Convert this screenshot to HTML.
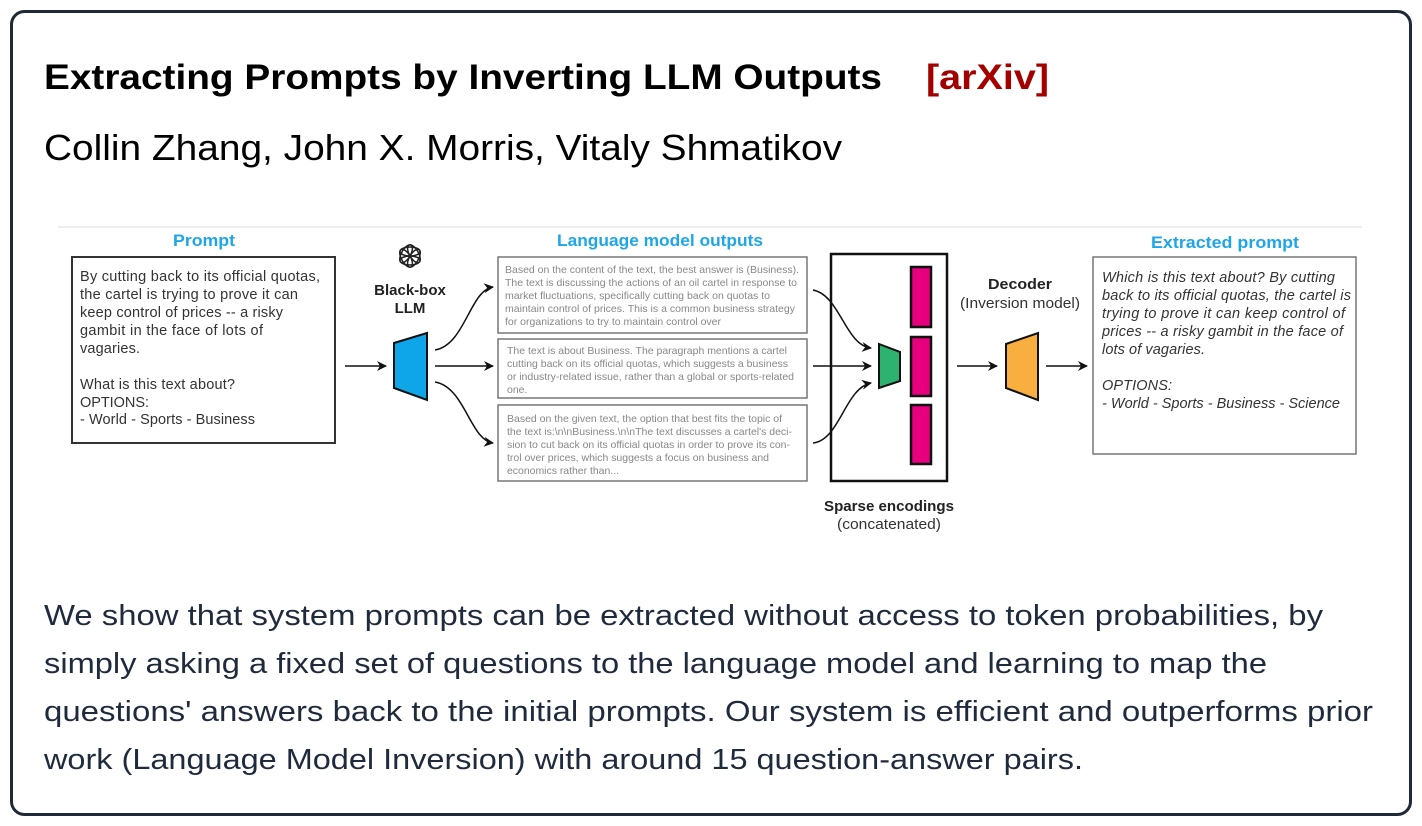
<!DOCTYPE html>
<html><head><meta charset="utf-8"><style>
html,body{margin:0;padding:0;background:#fff;}
svg{display:block;}
</style></head><body>
<svg width="1422" height="826" viewBox="0 0 1422 826" xmlns="http://www.w3.org/2000/svg" font-family="Liberation Sans, sans-serif">
<defs>
<marker id="ah" markerWidth="10" markerHeight="10" refX="9" refY="5" orient="auto" markerUnits="userSpaceOnUse">
<path d="M0,0 L10,5 L0,10 L3,5 Z" fill="#111"/>
</marker>
</defs>
<rect x="11.5" y="11.5" width="1399" height="803" rx="13" fill="#fff" stroke="#1f2937" stroke-width="3"/>

<text x="44" y="89" font-size="35" font-weight="bold" fill="#000" textLength="838" lengthAdjust="spacingAndGlyphs">Extracting Prompts by Inverting LLM Outputs</text>
<text x="926" y="89" font-size="35" font-weight="bold" fill="#a30000" textLength="123" lengthAdjust="spacingAndGlyphs">[arXiv]</text>
<text x="44" y="160" font-size="36" fill="#000" textLength="798" lengthAdjust="spacingAndGlyphs">Collin Zhang, John X. Morris, Vitaly Shmatikov</text>

<g font-size="28.5" fill="#1f2a3c">
<text x="44" y="625" textLength="1279" lengthAdjust="spacingAndGlyphs">We show that system prompts can be extracted without access to token probabilities, by</text>
<text x="44" y="673" textLength="1223" lengthAdjust="spacingAndGlyphs">simply asking a fixed set of questions to the language model and learning to map the</text>
<text x="44" y="721" textLength="1329" lengthAdjust="spacingAndGlyphs">questions' answers back to the initial prompts. Our system is efficient and outperforms prior</text>
<text x="44" y="769" textLength="1039" lengthAdjust="spacingAndGlyphs">work (Language Model Inversion) with around 15 question-answer pairs.</text>
</g>

<line x1="58" y1="227" x2="1362" y2="227" stroke="#eee" stroke-width="2"/>
<g font-weight="bold" fill="#1ea7e8" font-size="16.5" text-anchor="middle">
<text x="204" y="246" textLength="62" lengthAdjust="spacingAndGlyphs">Prompt</text>
<text x="660" y="246" textLength="206" lengthAdjust="spacingAndGlyphs">Language model outputs</text>
<text x="1225" y="248" textLength="148" lengthAdjust="spacingAndGlyphs">Extracted prompt</text>
</g>

<rect x="72" y="257" width="263" height="186" fill="#fff" stroke="#333" stroke-width="2"/>
<g font-size="14.5" fill="#333" lengthAdjust="spacingAndGlyphs">
<text x="80" y="281" textLength="240">By cutting back to its official quotas,</text>
<text x="80" y="299" textLength="218">the cartel is trying to prove it can</text>
<text x="80" y="317" textLength="203">keep control of prices -- a risky</text>
<text x="80" y="335" textLength="183">gambit in the face of lots of</text>
<text x="80" y="353" textLength="60">vagaries.</text>
<text x="80" y="389" textLength="155">What is this text about?</text>
<text x="80" y="407" textLength="69">OPTIONS:</text>
<text x="80" y="424" textLength="175">- World - Sports - Business</text>
</g>

<g transform="translate(410,256)" fill="none" stroke="#222" stroke-width="1.5">
<ellipse rx="10" ry="4.5" transform="rotate(0) translate(0,-4.5)"/>
<ellipse rx="10" ry="4.5" transform="rotate(60) translate(0,-4.5)"/>
<ellipse rx="10" ry="4.5" transform="rotate(120) translate(0,-4.5)"/>
<ellipse rx="10" ry="4.5" transform="rotate(180) translate(0,-4.5)"/>
<ellipse rx="10" ry="4.5" transform="rotate(240) translate(0,-4.5)"/>
<ellipse rx="10" ry="4.5" transform="rotate(300) translate(0,-4.5)"/>
</g>
<g font-weight="bold" font-size="15" fill="#222" text-anchor="middle">
<text x="410" y="295">Black-box</text>
<text x="410" y="313">LLM</text>
</g>
<polygon points="394,343 427,333 427,400 394,388" fill="#0ea5e9" stroke="#111" stroke-width="2"/>
<line x1="345" y1="366" x2="386" y2="366" stroke="#111" stroke-width="1.5" marker-end="url(#ah)"/>
<path d="M435,350 C465,345 470,290 493,287" fill="none" stroke="#111" stroke-width="1.5" marker-end="url(#ah)"/>
<line x1="435" y1="366" x2="493" y2="366" stroke="#111" stroke-width="1.5" marker-end="url(#ah)"/>
<path d="M435,382 C465,387 470,440 493,443" fill="none" stroke="#111" stroke-width="1.5" marker-end="url(#ah)"/>

<g fill="#fff" stroke="#777" stroke-width="1.5">
<rect x="498" y="257" width="309" height="76"/>
<rect x="498" y="339" width="309" height="59"/>
<rect x="498" y="405" width="309" height="76"/>
</g>
<g font-size="10.5" fill="#888" lengthAdjust="spacingAndGlyphs">
<text x="505" y="273" textLength="294">Based on the content of the text, the best answer is (Business).</text>
<text x="505" y="286" textLength="292">The text is discussing the actions of an oil cartel in response to</text>
<text x="505" y="299" textLength="265">market fluctuations, specifically cutting back on quotas to</text>
<text x="505" y="312" textLength="290">maintain control of prices. This is a common business strategy</text>
<text x="505" y="325" textLength="216">for organizations to try to maintain control over</text>
<text x="507" y="354" textLength="280">The text is about Business. The paragraph mentions a cartel</text>
<text x="507" y="367" textLength="281">cutting back on its official quotas, which suggests a business</text>
<text x="507" y="380" textLength="287">or industry-related issue, rather than a global or sports-related</text>
<text x="507" y="393">one.</text>
<text x="507" y="422" textLength="275">Based on the given text, the option that best fits the topic of</text>
<text x="507" y="435" textLength="285">the text is:\n\nBusiness.\n\nThe text discusses a cartel's deci-</text>
<text x="507" y="448" textLength="283">sion to cut back on its official quotas in order to prove its con-</text>
<text x="507" y="461" textLength="262">trol over prices, which suggests a focus on business and</text>
<text x="507" y="474" textLength="112">economics rather than...</text>
</g>

<rect x="831" y="254" width="116" height="227" fill="#fff" stroke="#111" stroke-width="2.5"/>
<g fill="#e6007e" stroke="#111" stroke-width="2.5">
<rect x="911" y="267" width="20" height="60"/>
<rect x="911" y="337" width="20" height="59"/>
<rect x="911" y="405" width="20" height="59"/>
</g>
<polygon points="879,344 900,352 900,381 879,388" fill="#2db36f" stroke="#111" stroke-width="2"/>
<path d="M813,290 C840,295 845,345 871,348" fill="none" stroke="#111" stroke-width="1.5" marker-end="url(#ah)"/>
<line x1="813" y1="366" x2="871" y2="366" stroke="#111" stroke-width="1.5" marker-end="url(#ah)"/>
<path d="M813,443 C840,440 845,388 871,383" fill="none" stroke="#111" stroke-width="1.5" marker-end="url(#ah)"/>
<text x="889" y="511" font-size="15" font-weight="bold" fill="#222" text-anchor="middle" textLength="130" lengthAdjust="spacingAndGlyphs">Sparse encodings</text>
<text x="889" y="529" font-size="15" fill="#333" text-anchor="middle" textLength="104" lengthAdjust="spacingAndGlyphs">(concatenated)</text>

<text x="1020" y="289" font-size="15" font-weight="bold" fill="#222" text-anchor="middle" textLength="64" lengthAdjust="spacingAndGlyphs">Decoder</text>
<text x="1020" y="308" font-size="15" fill="#333" text-anchor="middle" textLength="120" lengthAdjust="spacingAndGlyphs">(Inversion model)</text>
<polygon points="1006,344 1038,333 1038,400 1006,388" fill="#f9ae40" stroke="#111" stroke-width="2"/>
<line x1="957" y1="366" x2="997" y2="366" stroke="#111" stroke-width="1.5" marker-end="url(#ah)"/>
<line x1="1046" y1="366" x2="1087" y2="366" stroke="#111" stroke-width="1.5" marker-end="url(#ah)"/>

<rect x="1093" y="257" width="263" height="197" fill="#fff" stroke="#777" stroke-width="1.5"/>
<g font-size="14.5" fill="#333" font-style="italic" lengthAdjust="spacingAndGlyphs">
<text x="1102" y="282" textLength="233">Which is this text about? By cutting</text>
<text x="1102" y="300" textLength="249">back to its official quotas, the cartel is</text>
<text x="1102" y="318" textLength="243">trying to prove it can keep control of</text>
<text x="1102" y="336" textLength="241">prices -- a risky gambit in the face of</text>
<text x="1102" y="354" textLength="103">lots of vagaries.</text>
<text x="1102" y="390" textLength="70">OPTIONS:</text>
<text x="1102" y="408" textLength="238">- World - Sports - Business - Science</text>
</g>
</svg>
</body></html>
